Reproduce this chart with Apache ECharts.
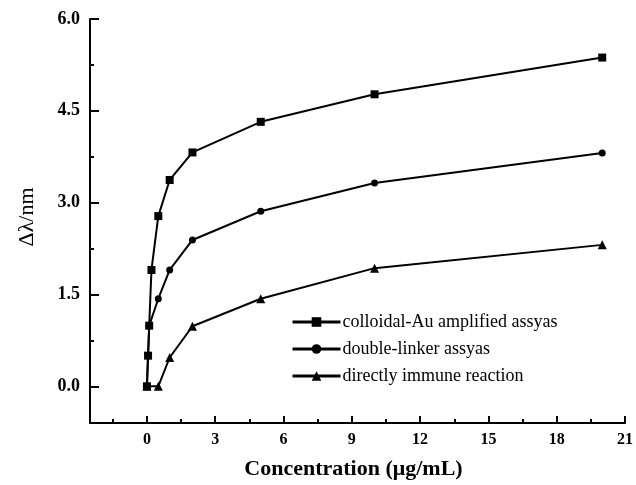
<!DOCTYPE html>
<html>
<head>
<meta charset="utf-8">
<script src="https://cdn.jsdelivr.net/npm/echarts@6/dist/echarts.min.js"></script>
<style>
  html, body { margin: 0; padding: 0; background: #fff; }
  #chart { width: 636px; height: 485px; }
</style>
</head>
<body>
<div id="chart"></div>
<script>
// data
var colloidalX = [0, 0.05, 0.1, 0.2, 0.5, 1, 2, 5, 10, 20];
var colloidalY = [0, 0.5, 0.99, 1.9, 2.78, 3.37, 3.82, 4.32, 4.77, 5.37];
var doubleX = [0, 0.1, 0.5, 1, 2, 5, 10, 20];
var doubleY = [0, 0.99, 1.43, 1.9, 2.39, 2.86, 3.32, 3.81];
var directX = [0, 0.5, 1, 2, 5, 10, 20];
var directY = [0, 0, 0.47, 0.98, 1.43, 1.93, 2.31];

var seriesNames = ['colloidal-Au amplified assyas', 'double-linker assyas', 'directly immune reaction'];
var xMajorTicks = [0, 3, 6, 9, 12, 15, 18, 21];
var xMinorTicks = [-1.5, 1.5, 4.5, 7.5, 10.5, 13.5, 16.5, 19.5];
var yMajorTicks = [0, 1.5, 3, 4.5, 6];
var yMinorTicks = [0.75, 2.25, 3.75, 5.25];

function pairs(xs, ys) {
  return xs.map(function (x, i) { return [x, ys[i]]; });
}

var myChart = echarts.init(document.getElementById('chart'));
var serif = '"Liberation Serif", "DejaVu Serif", serif';

function makeSeries(name, xs, ys, symbol, size) {
  return {
    name: name,
    type: 'line',
    xAxisIndex: 0,
    yAxisIndex: 0,
    data: pairs(xs, ys),
    symbol: symbol,
    symbolSize: size,
    showSymbol: true,
    lineStyle: { color: '#000', width: 2 },
    itemStyle: { color: '#000', borderColor: '#000', borderWidth: 0 }
  };
}

var option = {
  backgroundColor: '#fff',
  animation: false,
  grid: { left: 90, right: 5, top: 19, bottom: 62 },
  legend: {
    orient: 'vertical',
    left: 286,
    top: 308,
    itemWidth: 48,
    itemHeight: 12,
    itemGap: 9,
    lineStyle: { width: 3 },
    textStyle: { fontFamily: serif, fontSize: 18, color: '#000', padding: [0, 0, 0, -3] },
    data: seriesNames
  },
  xAxis: [{
    type: 'value',
    min: -2.5,
    max: 21,
    position: 'bottom',
    name: 'Concentration (μg/mL)',
    nameLocation: 'middle',
    nameGap: 35,
    nameTextStyle: { fontFamily: serif, fontSize: 22, fontWeight: 'bold', color: '#000', padding: [0, 8, 0, 0] },
    axisLine: { show: true, onZero: false, lineStyle: { color: '#000', width: 2 } },
    axisTick: { show: true, inside: true, length: 7, customValues: xMajorTicks, lineStyle: { color: '#000', width: 2 } },
    axisLabel: { customValues: xMajorTicks, margin: 9, fontFamily: serif, fontSize: 16, fontWeight: 'bold', color: '#000' },
    splitLine: { show: false }
  }, {
    type: 'value',
    min: -2.5,
    max: 21,
    position: 'bottom',
    offset: 0,
    axisLine: { show: false, onZero: false },
    axisTick: { show: true, inside: true, length: 4, customValues: xMinorTicks, lineStyle: { color: '#000', width: 2 } },
    axisLabel: { show: false },
    splitLine: { show: false }
  }],
  yAxis: [{
    type: 'value',
    min: -0.6,
    max: 6,
    position: 'left',
    name: 'Δλ/nm',
    nameLocation: 'middle',
    nameGap: 52,
    nameTextStyle: { fontFamily: serif, fontSize: 22, color: '#000', padding: [0, 0, 0, 8] },
    axisLine: { show: true, onZero: false, lineStyle: { color: '#000', width: 2 } },
    axisTick: { show: true, inside: true, length: 9, customValues: yMajorTicks, lineStyle: { color: '#000', width: 2 } },
    axisLabel: {
      customValues: yMajorTicks, margin: 10, fontFamily: serif, fontSize: 18, fontWeight: 'bold', color: '#000',
      formatter: function (v) { return v.toFixed(1); }
    },
    splitLine: { show: false }
  }, {
    type: 'value',
    min: -0.6,
    max: 6,
    position: 'left',
    offset: 0,
    axisLine: { show: false, onZero: false },
    axisTick: { show: true, inside: true, length: 4, customValues: yMinorTicks, lineStyle: { color: '#000', width: 2 } },
    axisLabel: { show: false },
    splitLine: { show: false }
  }],
  series: [
    makeSeries(seriesNames[0], colloidalX, colloidalY, 'rect', 8),
    makeSeries(seriesNames[1], doubleX, doubleY, 'circle', 7),
    makeSeries(seriesNames[2], directX, directY, 'triangle', 9)
  ]
};

myChart.setOption(option);
</script>
</body>
</html>
